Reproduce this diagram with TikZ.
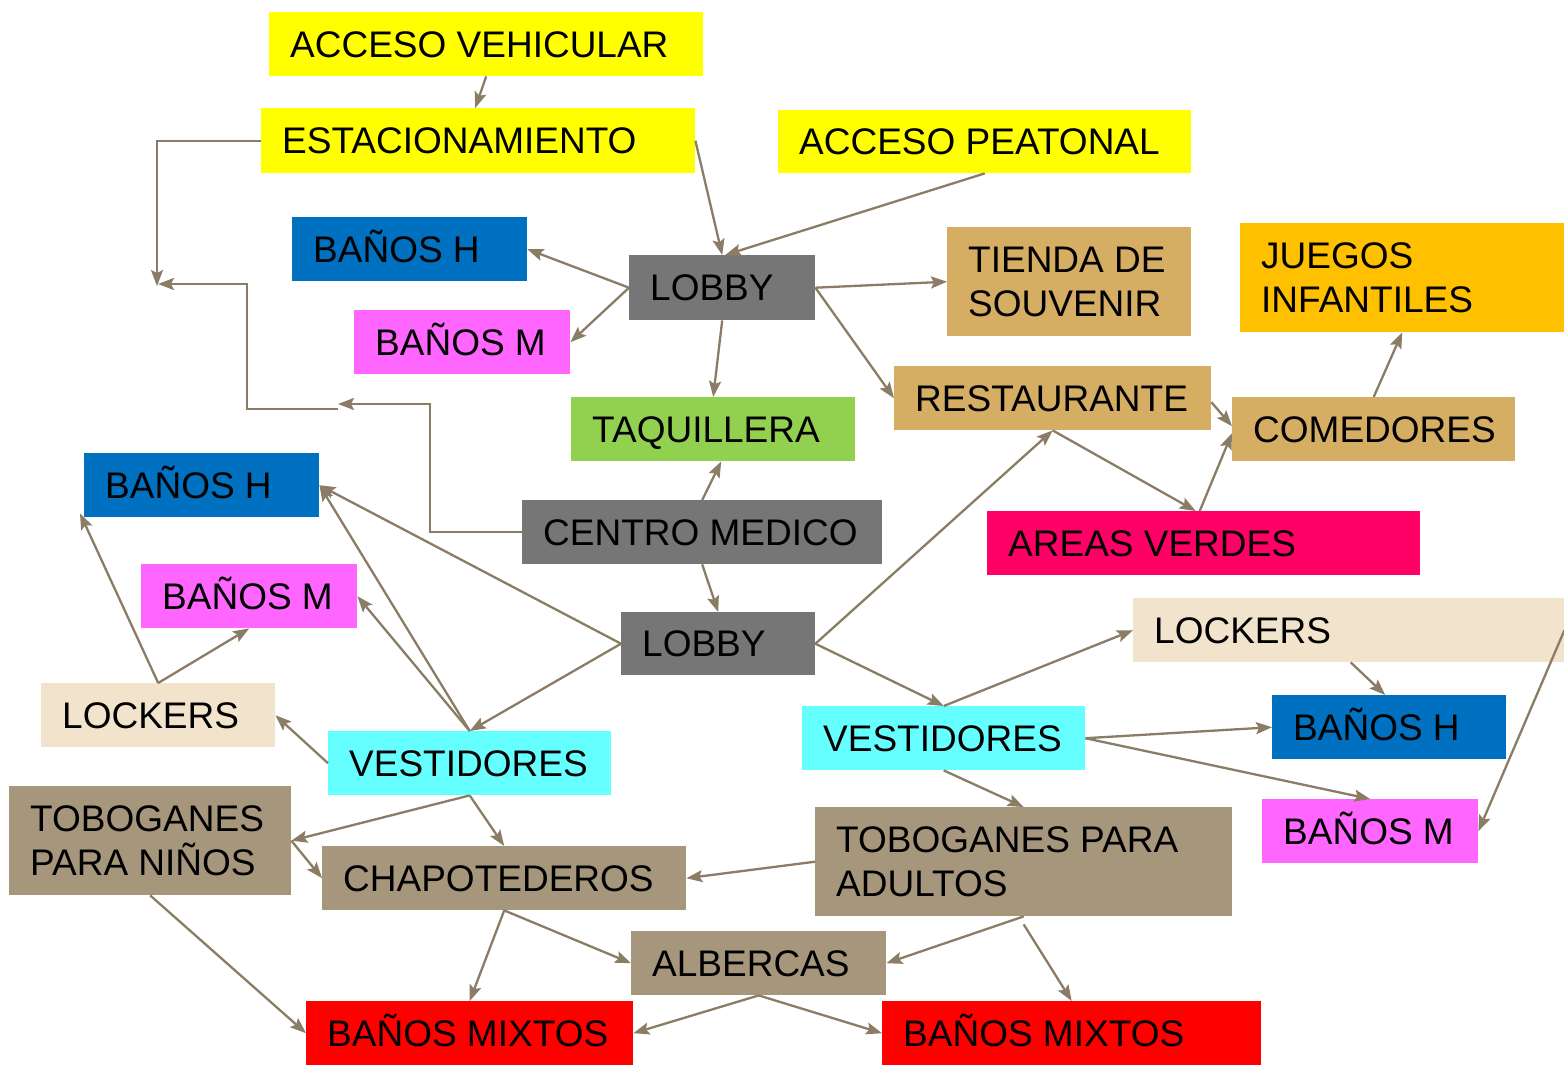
\documentclass[tikz,border=0pt]{standalone}
\usepackage{fontspec}
\setmainfont{Liberation Sans}
\usetikzlibrary{arrows.meta,calc}
\definecolor{cYel}{HTML}{FFFF00}
\definecolor{cBlue}{HTML}{0070C0}
\definecolor{cGray}{HTML}{767676}
\definecolor{cPink}{HTML}{FF66FF}
\definecolor{cGreen}{HTML}{92D050}
\definecolor{cTan}{HTML}{D5AD63}
\definecolor{cOrange}{HTML}{FFC000}
\definecolor{cRose}{HTML}{FF0066}
\definecolor{cBeige}{HTML}{F2E4CC}
\definecolor{cCyan}{HTML}{66FFFF}
\definecolor{cTaupe}{HTML}{A6977C}
\definecolor{cRed}{HTML}{FF0000}
\definecolor{cArr}{HTML}{8B7D65}
\tikzset{
  boxs/.style={draw=none, anchor=north west, inner sep=0pt},
  lbl/.style={anchor=west, align=left, inner sep=0pt, text=black,
    font=\fontsize{37}{44}\selectfont},
  one/.style={text height=26.5pt, text depth=0pt},
  arr/.style={draw=cArr, line width=2.3pt,
    -{Stealth[length=16pt,width=12pt,inset=3pt]}},
  arrl/.style={draw=cArr, line width=2.3pt}
}
% name, x, y, W, H, colour, text
\newcommand\bx[7]{%
  \node[boxs, fill=#6, minimum width=#4pt, minimum height=#5pt] (#1) at (#2,#3) {};
  \node[lbl, one] (#1t) at ([xshift=21pt]#1.west) {#7};}
\newcommand\bxx[7]{%
  \node[boxs, fill=#6, minimum width=#4pt, minimum height=#5pt] (#1) at (#2,#3) {};
  \node[lbl] (#1t) at ([xshift=21pt]#1.west) {#7};}
\begin{document}
\begin{tikzpicture}[x=1pt,y=-1pt]
\useasboundingbox[fill=white] (0,0) rectangle (1564,1066);
% boxes
\bx{accv}{269}{12}{434}{64}{cYel}{ACCESO VEHICULAR}
\bx{estac}{261}{108}{434}{65}{cYel}{ESTACIONAMIENTO}
\bx{accp}{778}{110}{413}{63}{cYel}{ACCESO PEATONAL}
\bx{bhA}{292}{217}{235}{64}{cBlue}{BAÑOS H}
\bx{lobbyA}{629}{255}{186}{65}{cGray}{LOBBY}
\bxx{tienda}{947}{227}{244}{109}{cTan}{TIENDA DE\\SOUVENIR}
\bxx{juegos}{1240}{223}{324}{109}{cOrange}{JUEGOS\\INFANTILES}
\bx{bmA}{354}{310}{216}{64}{cPink}{BAÑOS M}
\bx{rest}{894}{366}{317}{64}{cTan}{RESTAURANTE}
\bx{taq}{571}{397}{284}{64}{cGreen}{TAQUILLERA}
\bx{comed}{1232}{397}{283}{64}{cTan}{COMEDORES}
\bx{bhB}{84}{453}{235}{64}{cBlue}{BAÑOS H}
\bx{centro}{522}{500}{360}{64}{cGray}{CENTRO MEDICO}
\bx{areas}{987}{511}{433}{64}{cRose}{AREAS VERDES}
\bx{bmB}{141}{564}{216}{64}{cPink}{BAÑOS M}
\bx{lobbyB}{621}{612}{194}{63}{cGray}{LOBBY}
\bx{lockA}{1133}{598}{431}{64}{cBeige}{LOCKERS}
\bx{lockB}{41}{683}{234}{64}{cBeige}{LOCKERS}
\bx{bhC}{1272}{695}{234}{64}{cBlue}{BAÑOS H}
\bx{vestA}{802}{706}{283}{64}{cCyan}{VESTIDORES}
\bx{vestB}{328}{731}{283}{64}{cCyan}{VESTIDORES}
\bxx{tobn}{9}{786}{282}{109}{cTaupe}{TOBOGANES\\PARA NIÑOS}
\bx{bmC}{1262}{799}{216}{64}{cPink}{BAÑOS M}
\bxx{toba}{815}{807}{417}{109}{cTaupe}{TOBOGANES PARA\\ADULTOS}
\bx{chap}{322}{846}{364}{64}{cTaupe}{CHAPOTEDEROS}
\bx{alb}{631}{931}{255}{64}{cTaupe}{ALBERCAS}
\bx{bmxA}{306}{1001}{327}{64}{cRed}{BAÑOS MIXTOS}
\bx{bmxB}{882}{1001}{379}{64}{cRed}{BAÑOS MIXTOS}
% free coordinates of the loose elbow connectors
\coordinate (e1) at (157,286);
\coordinate (e2) at (338,409);
\coordinate (e3) at (247,284);
\coordinate (e4) at (158,284);
\coordinate (e5) at (430,404);
\coordinate (e6) at (338,404);
% connectors
\draw[arr] (accv.south) -- ([xshift=-3pt]estac.north);
\draw[arr] (estac.east) -- (lobbyA.north);
\draw[arr] (accp.south) -- ([xshift=3pt]lobbyA.north);
\draw[arr] (estac.west) -| (e1);
\draw[arr] (e2) -| (e3) -- (e4);
\draw[arr] (centro.west) -| (e5) -- (e6);
\draw[arr] (lobbyA.west) -- (bhA.east);
\draw[arr] (lobbyA.west) -- (bmA.east);
\draw[arr] (lobbyA.south) -- (taq.north);
\draw[arr] (lobbyA.east) -- (tienda.west);
\draw[arr] (lobbyA.east) -- (rest.west);
\draw[arr] (centro.north) -- ([xshift=8pt]taq.south);
\draw[arr] (centro.south) -- (lobbyB.north);
\draw[arr] ([yshift=-4pt]rest.east) -- ([yshift=3pt]comed.west);
\draw[arr] (rest.south) -- ([xshift=-8pt]areas.north);
\draw[arr] ([xshift=-4pt]areas.north) -- ([yshift=-4pt]comed.west);
\draw[arr] (comed.north) -- (juegos.south);
\draw[arr] (lobbyB.east) -- (rest.south);
\draw[arr] (lobbyB.west) -- (bhB.east);
\draw[arr] (lobbyB.west) -- (vestB.north);
\draw[arr] (vestB.north) -- (bhB.east);
\draw[arr] (vestB.north) -- (bmB.east);
\draw[arr] (vestB.west) -- (lockB.east);
\draw[arr] (lockB.north) -- ([shift={(-4pt,4pt)}]bhB.south west);
\draw[arr] (lockB.north) -- (bmB.south);
\draw[arr] (lobbyB.east) -- (vestA.north);
\draw[arr] (vestA.north) -- (lockA.west);
\draw[arr] ([xshift=2pt]lockA.south) -- ([xshift=-4pt]bhC.north);
\draw[arr] (lockA.east) -- (bmC.east);
\draw[arr] (vestA.east) -- (bhC.west);
\draw[arr] (vestA.east) -- (bmC.north);
\draw[arr] (vestA.south) -- (toba.north);
\draw[arr] (vestB.south) -- (tobn.east);
\draw[arr] (vestB.south) -- (chap.north);
\draw[arr] (tobn.east) -- (chap.west);
\draw[arr] (toba.west) -- (chap.east);
\draw[arr] (tobn.south) -- (bmxA.west);
\draw[arr] (chap.south) -- (bmxA.north);
\draw[arr] (chap.south) -- (alb.west);
\draw[arr] (toba.south) -- (alb.east);
\draw[arr] ([yshift=-8pt]toba.south) -- (bmxB.north);
\draw[arr] (alb.south) -- (bmxA.east);
\draw[arr] (alb.south) -- (bmxB.west);
\end{tikzpicture}
\end{document}
